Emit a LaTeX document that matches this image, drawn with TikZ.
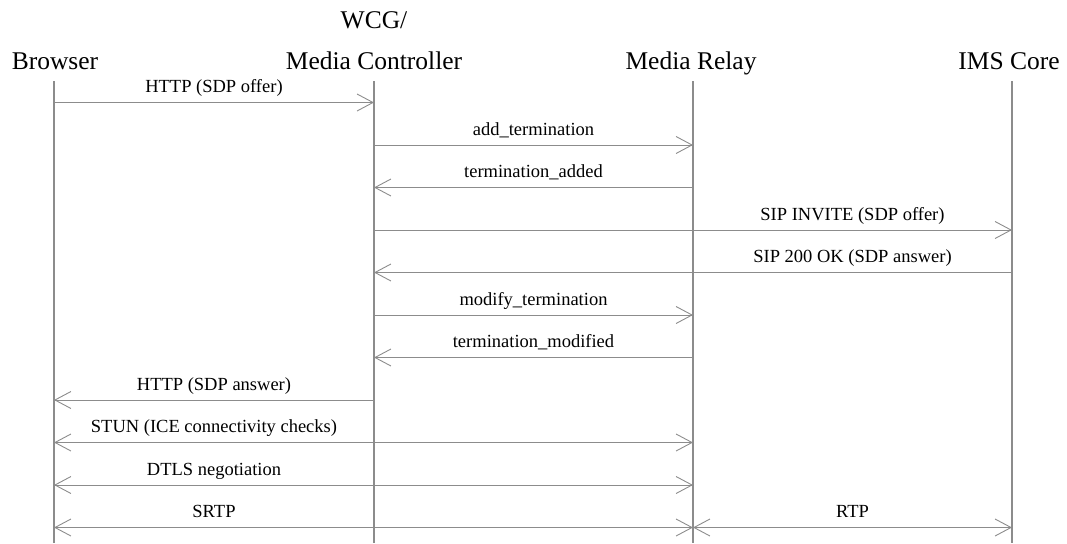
\documentclass[tikz,border=0pt]{standalone}
\usepackage{fontspec}
\setmainfont{Liberation Serif}
\usetikzlibrary{arrows.meta,calc}
\definecolor{linegray}{HTML}{8C8C8C}
\begin{document}
\begin{tikzpicture}[x=1pt,y=-1pt,
  head/.style={font=\fontsize{25.5}{30}\selectfont, inner sep=0pt, anchor=base},
  lbl/.style={font=\fontsize{18.5}{22}\selectfont, inner sep=0pt, anchor=base},
  life/.style={draw=linegray, line width=1.1pt},
  barb/.tip={Straight Barb[length=16pt,width=17pt,line width=0.9pt]},
  msg/.style={draw=linegray, line width=1pt, -barb},
  msgboth/.style={draw=linegray, line width=1pt, barb-barb}]
\useasboundingbox (0,0) rectangle (1067,543);
% lifeline coordinates
\foreach \i/\x in {1/54,2/374,3/693,4/1012}{
  \coordinate (L\i-top) at (\x,81);
  \coordinate (L\i-bot) at (\x,543);
  \foreach \r in {1,...,11}{
    \coordinate (L\i-\r) at (\x,{102.5+42.5*(\r-1)});
  }
}
% headers
\node[head] (hB) at (55,69) {Browser};
\node[head] (hW) at (374,29) {WCG/};
\node[head] (hC) at (374,69) {Media Controller};
\node[head] (hR) at (691,69) {Media Relay};
\node[head] (hI) at (1009,69) {IMS Core};
% lifelines
\foreach \i in {1,...,4}{ \draw[life] (L\i-top) -- (L\i-bot); }
% messages
\draw[msg] (L1-1) -- (L2-1);
\node[lbl] (t1) at ($(L1-1)!0.5!(L2-1)+(0,-10)$) {HTTP (SDP offer)};
\draw[msg] (L2-2) -- (L3-2);
\node[lbl] (t2) at ($(L2-2)!0.5!(L3-2)+(0,-10)$) {add\_termination};
\draw[msg] (L3-3) -- (L2-3);
\node[lbl] (t3) at ($(L2-3)!0.5!(L3-3)+(0,-10)$) {termination\_added};
\draw[msg] (L2-4) -- (L4-4);
\node[lbl] (t4) at ($(L3-4)!0.5!(L4-4)+(0,-10)$) {SIP INVITE (SDP offer)};
\draw[msg] (L4-5) -- (L2-5);
\node[lbl] (t5) at ($(L3-5)!0.5!(L4-5)+(0,-10)$) {SIP 200 OK (SDP answer)};
\draw[msg] (L2-6) -- (L3-6);
\node[lbl] (t6) at ($(L2-6)!0.5!(L3-6)+(0,-10)$) {modify\_termination};
\draw[msg] (L3-7) -- (L2-7);
\node[lbl] (t7) at ($(L2-7)!0.5!(L3-7)+(0,-10)$) {termination\_modified};
\draw[msg] (L2-8) -- (L1-8);
\node[lbl] (t8) at ($(L1-8)!0.5!(L2-8)+(0,-10)$) {HTTP (SDP answer)};
\draw[msgboth] (L1-9) -- (L3-9);
\node[lbl] (t9) at ($(L1-9)!0.5!(L2-9)+(0,-10)$) {STUN (ICE connectivity checks)};
\draw[msgboth] (L1-10) -- (L3-10);
\node[lbl] (t10) at ($(L1-10)!0.5!(L2-10)+(0,-10)$) {DTLS negotiation};
\draw[msgboth] (L1-11) -- (L3-11);
\node[lbl] (t11) at ($(L1-11)!0.5!(L2-11)+(0,-10)$) {SRTP};
\draw[msgboth] (L3-11) -- (L4-11);
\node[lbl] (t12) at ($(L3-11)!0.5!(L4-11)+(0,-10)$) {RTP};
\end{tikzpicture}
\end{document}
